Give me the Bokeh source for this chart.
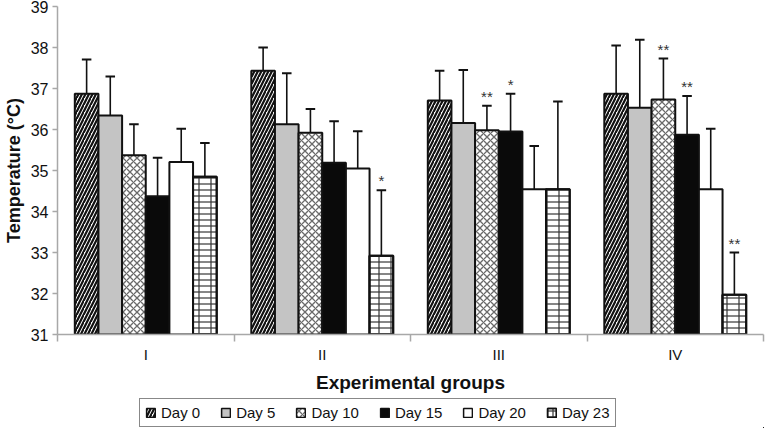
from bokeh.plotting import figure
from bokeh.layouts import column
from bokeh.models import Range1d, FixedTicker, Legend, LegendItem, ColumnDataSource
from bokeh.transform import dodge
from bokeh.core.properties import value
from bokeh.embed import file_html
from bokeh.resources import INLINE

groups = ["I", "II", "III", "IV"]
days = ["Day 0", "Day 5", "Day 10", "Day 15", "Day 20", "Day 23"]

# mean temperature per day, across groups I..IV
day0 = [36.87, 37.43, 36.71, 36.87]
day5 = [36.34, 36.13, 36.16, 36.53]
day10 = [35.37, 35.92, 35.98, 36.73]
day15 = [34.37, 35.19, 35.95, 35.87]
day20 = [35.21, 35.05, 34.54, 34.54]
day23 = [34.85, 32.92, 34.54, 31.97]

# standard deviations (upper error bars)
sd0 = [0.84, 0.57, 0.72, 1.18]
sd5 = [0.95, 1.24, 1.29, 1.66]
sd10 = [0.76, 0.58, 0.60, 1.00]
sd15 = [0.94, 1.01, 0.92, 0.95]
sd20 = [0.81, 0.91, 1.06, 1.48]
sd23 = [0.82, 1.60, 2.14, 1.03]

# significance marks
sig0 = ["", "", "", ""]
sig5 = ["", "", "", ""]
sig10 = ["", "", "**", "**"]
sig15 = ["", "", "*", "**"]
sig20 = ["", "", "", ""]
sig23 = ["", "*", "", "**"]

y_ticks = [31, 32, 33, 34, 35, 36, 37, 38, 39]

means = [day0, day5, day10, day15, day20, day23]
sds = [sd0, sd5, sd10, sd15, sd20, sd23]
sigs = [sig0, sig5, sig10, sig15, sig20, sig23]

FONT = "Liberation Sans"
INK = "#111111"

# each series: list of layered fill styles (drawn on top of each other)
styles = [
    [dict(fill_color="white", hatch_pattern="right_diagonal_line", hatch_color=INK,
          hatch_scale=7, hatch_weight=2.2)],
    [dict(fill_color="#c4c4c4")],
    [dict(fill_color="white", hatch_pattern="diagonal_cross", hatch_color="#6a6a6a",
          hatch_scale=7, hatch_weight=1.3)],
    [dict(fill_color="#0a0a0a")],
    [dict(fill_color="white")],
    [dict(fill_color="white", hatch_pattern="horizontal_line", hatch_color="#333333",
          hatch_scale=6, hatch_weight=1.2),
     dict(fill_color=None, hatch_pattern="vertical_line", hatch_color="#333333",
          hatch_scale=12, hatch_weight=1.2)],
]

n = len(groups)
centers = [k + 0.5 for k in range(n)]

p = figure(width=765, height=398,
           x_range=Range1d(0, n), y_range=Range1d(31, 39),
           output_backend="svg", toolbar_location=None,
           min_border_left=50, min_border_right=2, min_border_top=6, min_border_bottom=64)
p.grid.visible = False
p.outline_line_color = None
p.background_fill_color = "white"

# legend strip below the chart; its ranges lie away from the data so only the legend shows
pl = figure(width=765, height=30, x_range=Range1d(-20 * n, -10 * n), y_range=Range1d(100, 101),
            output_backend="svg", toolbar_location=None,
            min_border_left=0, min_border_right=0, min_border_top=0, min_border_bottom=0,
            x_axis_location=None, y_axis_location=None)
pl.grid.visible = False
pl.outline_line_color = None

bw = 0.134
items = []
for i, name in enumerate(days):
    upper = [m + s for m, s in zip(means[i], sds[i])]
    src = ColumnDataSource(dict(gx=centers, m=means[i], u=upper, sig=sigs[i]))
    off = (i - 2.5) * bw
    p.segment(x0=dodge("gx", off), y0="m", x1=dodge("gx", off), y1="u",
              source=src, line_color=INK, line_width=1.6)
    p.segment(x0=dodge("gx", off - 0.027), y0="u", x1=dodge("gx", off + 0.027), y1="u",
              source=src, line_color=INK, line_width=2)
    for st in styles[i]:
        p.vbar(x=dodge("gx", off), top="m", bottom=31, width=bw,
               source=src, line_color=INK, line_width=2, **st)
    p.text(x=dodge("gx", off), y="u", text="sig", source=src,
           text_align="center", text_baseline="bottom", y_offset=-1,
           text_font=value(FONT), text_font_size="15px", text_color="#333333")
    rs = [pl.vbar(x=dodge("gx", off), top="m", bottom=31, width=bw, source=src,
                  line_color=INK, line_width=1.5, **st) for st in styles[i]]
    items.append(LegendItem(label=name, renderers=rs))

# y axis
ya = p.yaxis[0]
ya.ticker = FixedTicker(ticks=y_ticks)
ya.axis_label = "Temperature (\u00b0C)"
ya.axis_label_text_font = FONT
ya.axis_label_text_font_style = "bold"
ya.axis_label_text_font_size = "18px"
ya.axis_label_text_color = INK
ya.axis_label_standoff = 4
ya.major_label_text_font = FONT
ya.major_label_text_font_size = "16px"
ya.major_label_text_color = INK
ya.major_label_standoff = 4
ya.axis_line_color = "#a8a8a8"
ya.axis_line_width = 1.5
ya.major_tick_line_color = "#a8a8a8"
ya.major_tick_line_width = 1.5
ya.major_tick_out = 5
ya.major_tick_in = 0
ya.minor_tick_line_color = None

# x axis: labels at group centres, tick marks between groups
xa = p.xaxis[0]
xa.ticker = FixedTicker(ticks=centers, minor_ticks=list(range(n + 1)))
xa.major_label_overrides = {c: g for c, g in zip(centers, groups)}
xa.major_tick_line_color = None
xa.minor_tick_line_color = "#a8a8a8"
xa.minor_tick_line_width = 1.5
xa.minor_tick_out = 7
xa.minor_tick_in = 0
xa.axis_line_color = "#a8a8a8"
xa.axis_line_width = 1.5
xa.major_label_text_font = FONT
xa.major_label_text_font_size = "15px"
xa.major_label_text_color = INK
xa.major_label_standoff = 4
xa.axis_label = "Experimental groups"
xa.axis_label_text_font = FONT
xa.axis_label_text_font_style = "bold"
xa.axis_label_text_font_size = "19px"
xa.axis_label_text_color = INK
xa.axis_label_standoff = 6

legend = Legend(items=items, orientation="horizontal", location=(82, 1))
legend.label_text_font = FONT
legend.label_text_font_size = "15px"
legend.label_text_color = INK
legend.label_standoff = 5
legend.glyph_width = 11
legend.glyph_height = 11
legend.spacing = 20
legend.padding = 5
legend.margin = 0
legend.border_line_color = INK
legend.border_line_width = 1
legend.label_height = 14
pl.add_layout(legend, "center")

layout = column(p, pl, spacing=0)
open("out.html", "w").write(file_html(layout, INLINE))
